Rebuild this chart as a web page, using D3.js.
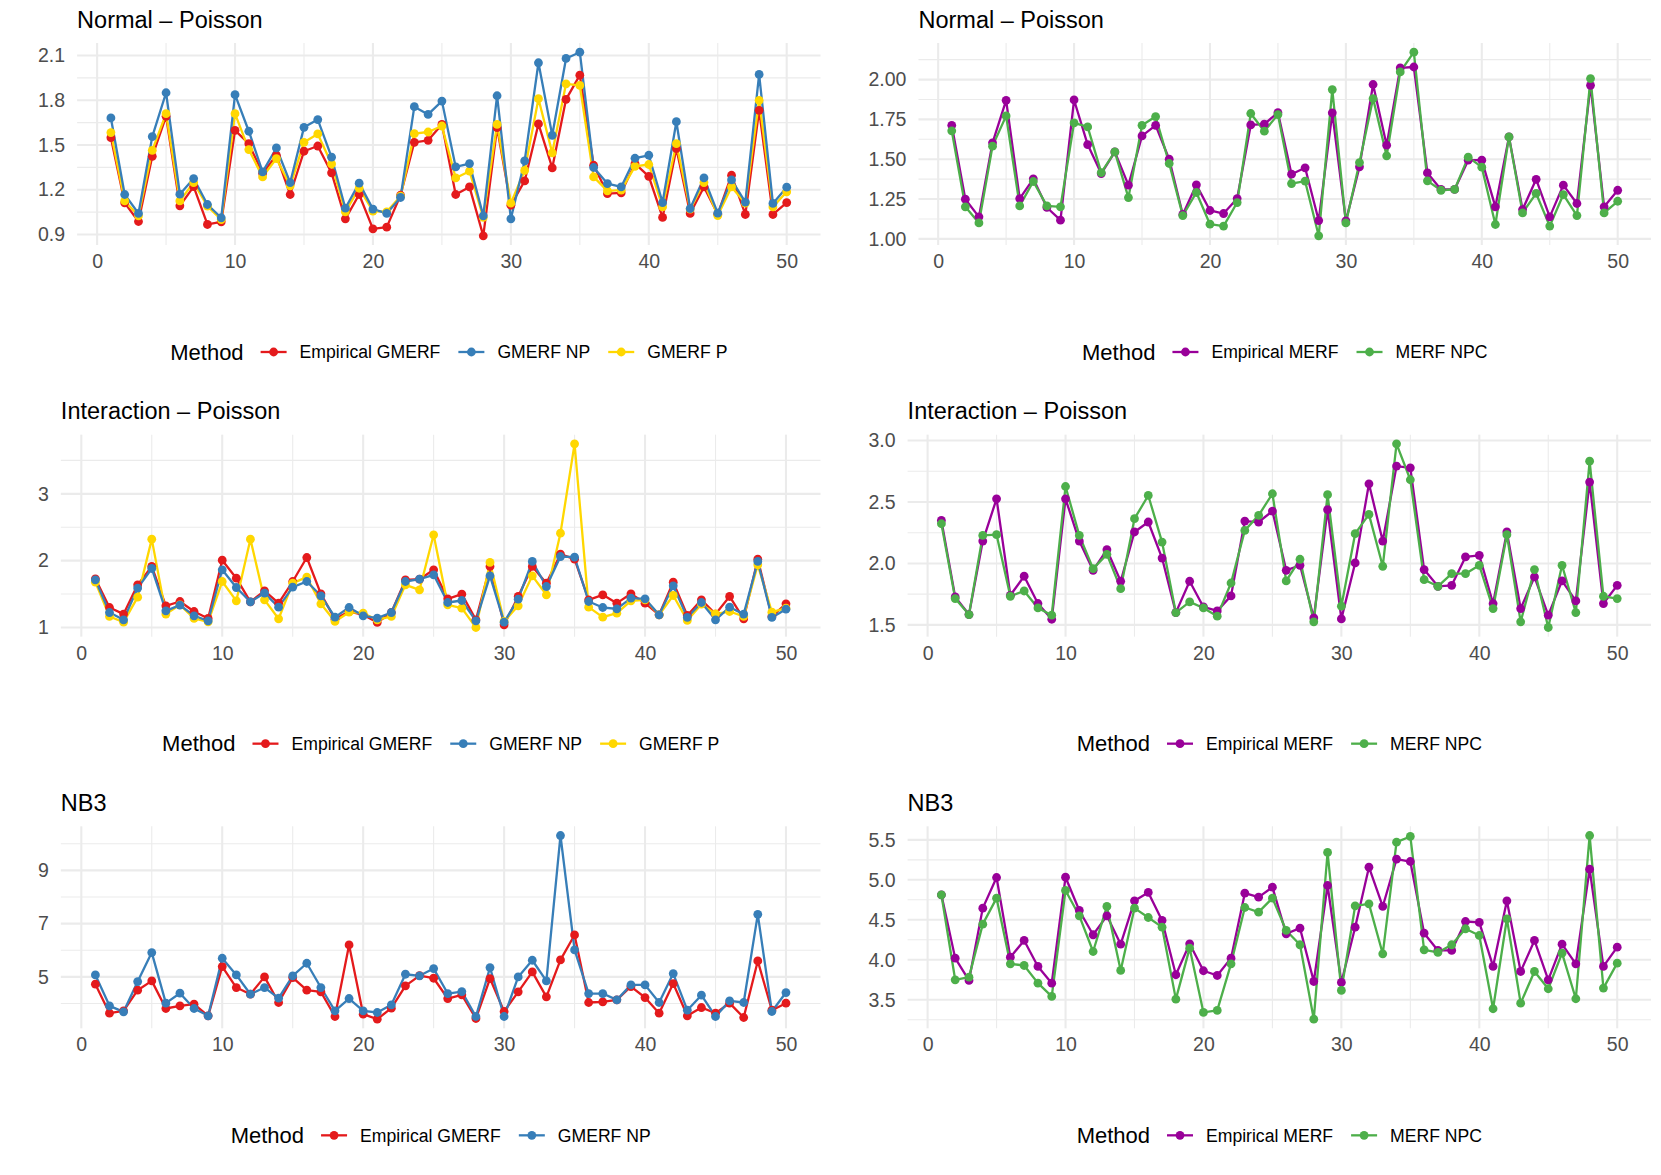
<!DOCTYPE html>
<meta charset="utf-8">
<script src="https://d3js.org/d3.v7.min.js"></script>
<style>
  body { margin: 0; background: #fff; }
  svg { font-family: "Liberation Sans", Arial, Helvetica, sans-serif; }
</style>
<body>
<script>
// run index on the x axis
var run = d3.range(1, 51);

// Normal - Poisson
var npEmpGMERF = [1.549,1.112,0.987,1.424,1.692,1.092,1.221,0.967,0.985,1.598,1.509,1.309,1.431,1.168,1.458,1.493,1.313,1.005,1.168,0.938,0.949,1.163,1.518,1.531,1.638,1.168,1.219,0.891,1.616,1.096,1.259,1.641,1.346,1.806,1.968,1.364,1.174,1.179,1.375,1.290,1.014,1.476,1.041,1.219,1.036,1.297,1.034,1.732,1.034,1.114];
var npGMERFNP  = [1.681,1.168,1.041,1.556,1.850,1.170,1.275,1.101,1.012,1.837,1.592,1.320,1.480,1.248,1.618,1.670,1.418,1.076,1.244,1.070,1.041,1.148,1.757,1.705,1.794,1.353,1.375,1.025,1.830,1.005,1.393,2.051,1.565,2.080,2.122,1.349,1.241,1.219,1.411,1.431,1.114,1.656,1.074,1.279,1.043,1.266,1.117,1.973,1.108,1.217];
var npGMERFP   = [1.583,1.125,1.025,1.464,1.710,1.125,1.248,1.090,1.000,1.710,1.469,1.286,1.409,1.226,1.518,1.574,1.373,1.052,1.210,1.056,1.052,1.157,1.576,1.587,1.627,1.279,1.324,1.014,1.638,1.110,1.329,1.810,1.447,1.910,1.899,1.286,1.192,1.197,1.357,1.369,1.085,1.509,1.070,1.248,1.027,1.219,1.110,1.799,1.085,1.186];
var npEmpMERF  = [1.713,1.249,1.138,1.603,1.870,1.253,1.377,1.197,1.117,1.872,1.592,1.410,1.546,1.337,1.646,1.713,1.500,1.153,1.339,1.178,1.159,1.253,1.715,1.720,1.793,1.406,1.446,1.115,1.791,1.113,1.452,1.969,1.588,2.073,2.079,1.414,1.310,1.310,1.494,1.494,1.201,1.640,1.184,1.374,1.138,1.337,1.222,1.964,1.201,1.305];
var npMERFNPC  = [1.678,1.201,1.100,1.582,1.772,1.207,1.360,1.207,1.201,1.728,1.703,1.416,1.546,1.259,1.713,1.768,1.473,1.146,1.291,1.092,1.080,1.228,1.787,1.676,1.780,1.347,1.362,1.019,1.937,1.100,1.479,1.881,1.521,2.048,2.172,1.364,1.305,1.310,1.513,1.450,1.090,1.640,1.163,1.285,1.080,1.278,1.146,2.006,1.163,1.236];

// Interaction - Poisson
var intEmpGMERF = [1.728,1.299,1.200,1.638,1.913,1.324,1.389,1.239,1.135,2.007,1.738,1.384,1.549,1.364,1.688,2.047,1.504,1.125,1.240,1.190,1.075,1.224,1.713,1.723,1.863,1.429,1.499,1.115,1.913,1.040,1.464,1.913,1.663,2.097,2.022,1.414,1.489,1.364,1.504,1.364,1.190,1.678,1.180,1.414,1.200,1.464,1.130,2.022,1.165,1.354];
var intGMERFNP  = [1.713,1.224,1.115,1.589,1.883,1.249,1.334,1.175,1.100,1.863,1.598,1.384,1.514,1.304,1.603,1.688,1.474,1.155,1.299,1.175,1.140,1.224,1.688,1.723,1.788,1.374,1.404,1.100,1.773,1.080,1.424,1.988,1.613,2.062,2.052,1.389,1.299,1.279,1.439,1.429,1.190,1.623,1.150,1.374,1.115,1.304,1.200,1.988,1.150,1.274];
var intGMERFP   = [1.678,1.165,1.080,1.454,2.322,1.200,1.339,1.135,1.085,1.688,1.399,2.322,1.414,1.130,1.663,1.753,1.354,1.090,1.229,1.214,1.115,1.165,1.638,1.564,2.387,1.339,1.289,1.000,1.973,1.090,1.324,1.773,1.489,2.411,3.748,1.304,1.155,1.214,1.399,1.414,1.190,1.479,1.105,1.349,1.204,1.239,1.165,1.938,1.229,1.289];
var intEmpMERF  = [2.350,1.728,1.584,2.182,2.526,1.741,1.896,1.674,1.546,2.526,2.182,1.944,2.112,1.855,2.256,2.337,2.044,1.600,1.855,1.646,1.614,1.736,2.345,2.337,2.426,1.944,1.985,1.557,2.437,1.549,2.004,2.648,2.182,2.792,2.778,1.950,1.814,1.822,2.053,2.066,1.674,2.256,1.633,1.890,1.579,1.858,1.695,2.662,1.674,1.822];
var intMERFNPC  = [2.323,1.714,1.584,2.228,2.234,1.733,1.776,1.638,1.579,2.626,2.228,1.958,2.074,1.795,2.364,2.553,2.174,1.600,1.687,1.638,1.571,1.841,2.269,2.391,2.567,1.858,2.034,1.525,2.559,1.652,2.242,2.399,1.977,2.973,2.681,1.868,1.814,1.917,1.917,1.985,1.633,2.234,1.525,1.950,1.479,1.985,1.600,2.832,1.733,1.714];

// NB3
var nbEmpGMERF = [4.725,3.638,3.725,4.500,4.850,3.813,3.913,3.975,3.538,5.388,4.600,4.350,5.000,4.038,4.975,4.500,4.438,3.513,6.200,3.600,3.413,3.825,4.663,5.050,4.950,4.188,4.325,3.438,4.938,3.700,4.438,5.188,4.250,5.638,6.575,4.038,4.063,4.138,4.638,4.225,3.638,4.750,3.538,3.850,3.638,4.013,3.475,5.600,3.750,4.013];
var nbGMERFNP  = [5.075,3.913,3.688,4.825,5.913,4.013,4.388,3.813,3.538,5.700,5.075,4.350,4.600,4.200,5.038,5.513,4.600,3.725,4.188,3.725,3.663,3.950,5.100,5.040,5.313,4.375,4.450,3.513,5.350,3.513,5.000,5.625,4.850,10.310,6.013,4.375,4.375,4.138,4.700,4.700,4.038,5.125,3.750,4.313,3.513,4.100,4.038,7.350,3.700,4.413];
var nbEmpMERF  = [4.813,4.021,3.742,4.646,5.029,4.033,4.242,3.917,3.708,5.033,4.617,4.313,4.550,4.196,4.738,4.842,4.492,3.813,4.200,3.863,3.804,4.021,4.833,4.783,4.908,4.325,4.396,3.729,4.929,3.717,4.408,5.158,4.667,5.258,5.229,4.333,4.117,4.117,4.479,4.467,3.917,4.738,3.854,4.242,3.750,4.196,3.950,5.133,3.917,4.158];
var nbMERFNPC  = [4.813,3.750,3.783,4.446,4.771,3.950,3.929,3.708,3.542,4.867,4.550,4.104,4.667,3.867,4.646,4.529,4.408,3.508,4.146,3.342,3.367,3.950,4.654,4.596,4.771,4.367,4.188,3.258,5.342,3.617,4.675,4.700,4.075,5.471,5.542,4.125,4.092,4.188,4.388,4.304,3.388,4.513,3.458,3.854,3.638,4.083,3.513,5.554,3.646,3.958];

// tick labels
var xTicks = [0, 10, 20, 30, 40, 50];
var npLeftTicks = [0.9, 1.2, 1.5, 1.8, 2.1];
var npRightTicks = [1.00, 1.25, 1.50, 1.75, 2.00];
var intLeftTicks = [1, 2, 3];
var intRightTicks = [1.5, 2.0, 2.5, 3.0];
var nbLeftTicks = [5, 7, 9];
var nbRightTicks = [3.5, 4.0, 4.5, 5.0, 5.5];

var W = 1661, H = 1175, rowH = H / 3, colW = W / 2;
var red = "#E41A1C", blue = "#377EB8", yellow = "#FFD700", purple = "#990099", green = "#4DAF4A";
var tickSize = 19.5, legTitleSize = 22, legTextSize = 17.6, titleSize = 23.5;

function gmerf(a, b, c) {
    var s = [ {name: "Empirical GMERF", values: a, color: red, z: 0},
              {name: "GMERF NP", values: b, color: blue, z: 2} ];
    if (c) s.push({name: "GMERF P", values: c, color: yellow, z: 1});
    return s;
}
function merf(a, b) {
    return [ {name: "Empirical MERF", values: a, color: purple, z: 0},
             {name: "MERF NPC", values: b, color: green, z: 1} ];
}

var panels = [
    {title: "Normal \u2013 Poisson", row: 0, col: 0, ticks: npLeftTicks, fmt: d3.format(".1f"), series: gmerf(npEmpGMERF, npGMERFNP, npGMERFP)},
    {title: "Normal \u2013 Poisson", row: 0, col: 1, ticks: npRightTicks, fmt: d3.format(".2f"), series: merf(npEmpMERF, npMERFNPC)},
    {title: "Interaction \u2013 Poisson", row: 1, col: 0, ticks: intLeftTicks, fmt: d3.format("d"), series: gmerf(intEmpGMERF, intGMERFNP, intGMERFP)},
    {title: "Interaction \u2013 Poisson", row: 1, col: 1, ticks: intRightTicks, fmt: d3.format(".1f"), series: merf(intEmpMERF, intMERFNPC)},
    {title: "NB3", row: 2, col: 0, ticks: nbLeftTicks, fmt: d3.format("d"), series: gmerf(nbEmpGMERF, nbGMERFNP)},
    {title: "NB3", row: 2, col: 1, ticks: nbRightTicks, fmt: d3.format(".1f"), series: merf(nbEmpMERF, nbMERFNPC)}
];

var svg = d3.select("body").append("svg").attr("width", W).attr("height", H);
svg.append("rect").attr("width", W).attr("height", H).attr("fill", "#fff");

function textWidth(g, str, size) {
    var t = g.append("text").attr("font-size", size).text(str);
    var w = t.node().getComputedTextLength();
    t.remove();
    return w;
}

// ggplot style minor breaks: half way between majors, kept inside the domain
function minors(ticks, domain) {
    var step = ticks[1] - ticks[0], out = [];
    ticks.forEach(function(t) { out.push(t - step / 2, t + step / 2); });
    out = Array.from(new Set(out.map(function(v) { return +v.toFixed(6); })));
    return out.filter(function(v) { return v >= domain[0] && v <= domain[1]; });
}

function expand(ext) {
    var pad = (ext[1] - ext[0]) * 0.05;
    return [ext[0] - pad, ext[1] + pad];
}

panels.forEach(function(p) {
    var g = svg.append("g").attr("transform", "translate(" + (p.col * colW) + "," + (p.row * rowH) + ")");
    var lw = d3.max(p.ticks, function(t) { return textWidth(g, p.fmt(t), tickSize); });
    var left = 38 + lw + 12, right = colW - 10, top = 43, bottom = 245;

    var x = d3.scaleLinear().domain(expand(d3.extent(run))).range([left, right]);
    var y = d3.scaleLinear().domain(expand(d3.extent(d3.merge(p.series.map(function(s) { return s.values; }))))).range([bottom, top]);

    var grid = g.append("g").attr("stroke", "#EBEBEB").attr("fill", "none");
    grid.selectAll(".ymin").data(minors(p.ticks, y.domain())).join("line")
        .attr("x1", left).attr("x2", right).attr("y1", y).attr("y2", y).attr("stroke-width", 1.1);
    grid.selectAll(".xmin").data(minors(xTicks, x.domain())).join("line")
        .attr("y1", top).attr("y2", bottom).attr("x1", x).attr("x2", x).attr("stroke-width", 1.1);
    grid.selectAll(".ymaj").data(p.ticks).join("line")
        .attr("x1", left).attr("x2", right).attr("y1", y).attr("y2", y).attr("stroke-width", 2.1);
    grid.selectAll(".xmaj").data(xTicks).join("line")
        .attr("y1", top).attr("y2", bottom).attr("x1", x).attr("x2", x).attr("stroke-width", 2.1);

    var ya = g.append("g").attr("transform", "translate(" + left + ",0)")
        .call(d3.axisLeft(y).tickValues(p.ticks).tickFormat(p.fmt).tickSize(0).tickPadding(12));
    var xa = g.append("g").attr("transform", "translate(0," + bottom + ")")
        .call(d3.axisBottom(x).tickValues(xTicks).tickSize(0).tickPadding(9));
    [ya, xa].forEach(function(a) {
        a.select(".domain").remove();
        a.attr("font-family", null).attr("font-size", tickSize);
        a.selectAll("text").attr("fill", "#4D4D4D");
    });

    var drawn = p.series.slice().sort(function(a, b) { return a.z - b.z; });
    var line = d3.line().x(function(d, i) { return x(run[i]); }).y(function(d) { return y(d); });
    g.selectAll(".ln").data(drawn).join("path")
        .attr("fill", "none").attr("stroke", function(s) { return s.color; })
        .attr("stroke-width", 2.3).attr("stroke-linejoin", "round")
        .attr("d", function(s) { return line(s.values); });
    drawn.forEach(function(s) {
        g.append("g").attr("fill", s.color).selectAll("circle").data(s.values).join("circle")
            .attr("cx", function(d, i) { return x(run[i]); }).attr("cy", function(d) { return y(d); })
            .attr("r", 4.4);
    });

    g.append("text").attr("x", left).attr("y", 27.5).attr("font-size", titleSize).attr("fill", "#000").text(p.title);

    // legend at the bottom, centred on the panel
    var keyW = 28, ly = 352;
    var items = p.series.map(function(s) { return {s: s, w: textWidth(g, s.name, legTextSize)}; });
    var titleW = textWidth(g, "Method", legTitleSize);
    var total = titleW + 16 + d3.sum(items, function(it) { return keyW + 12 + it.w; }) + 17 * (items.length - 1);
    var lx = (left + right) / 2 - total / 2;
    var leg = g.append("g").attr("transform", "translate(" + lx + "," + ly + ")");
    leg.append("text").attr("font-size", legTitleSize).attr("dy", "0.35em").text("Method");
    var cx = titleW + 16;
    items.forEach(function(it) {
        var k = leg.append("g").attr("transform", "translate(" + cx + ",0)");
        k.append("line").attr("x1", 1).attr("x2", keyW - 1).attr("stroke", it.s.color).attr("stroke-width", 2.3);
        k.append("circle").attr("cx", keyW / 2).attr("r", 4.4).attr("fill", it.s.color);
        k.append("text").attr("x", keyW + 12).attr("dy", "0.35em").attr("font-size", legTextSize).text(it.s.name);
        cx += keyW + 12 + it.w + 17;
    });
});
</script>
